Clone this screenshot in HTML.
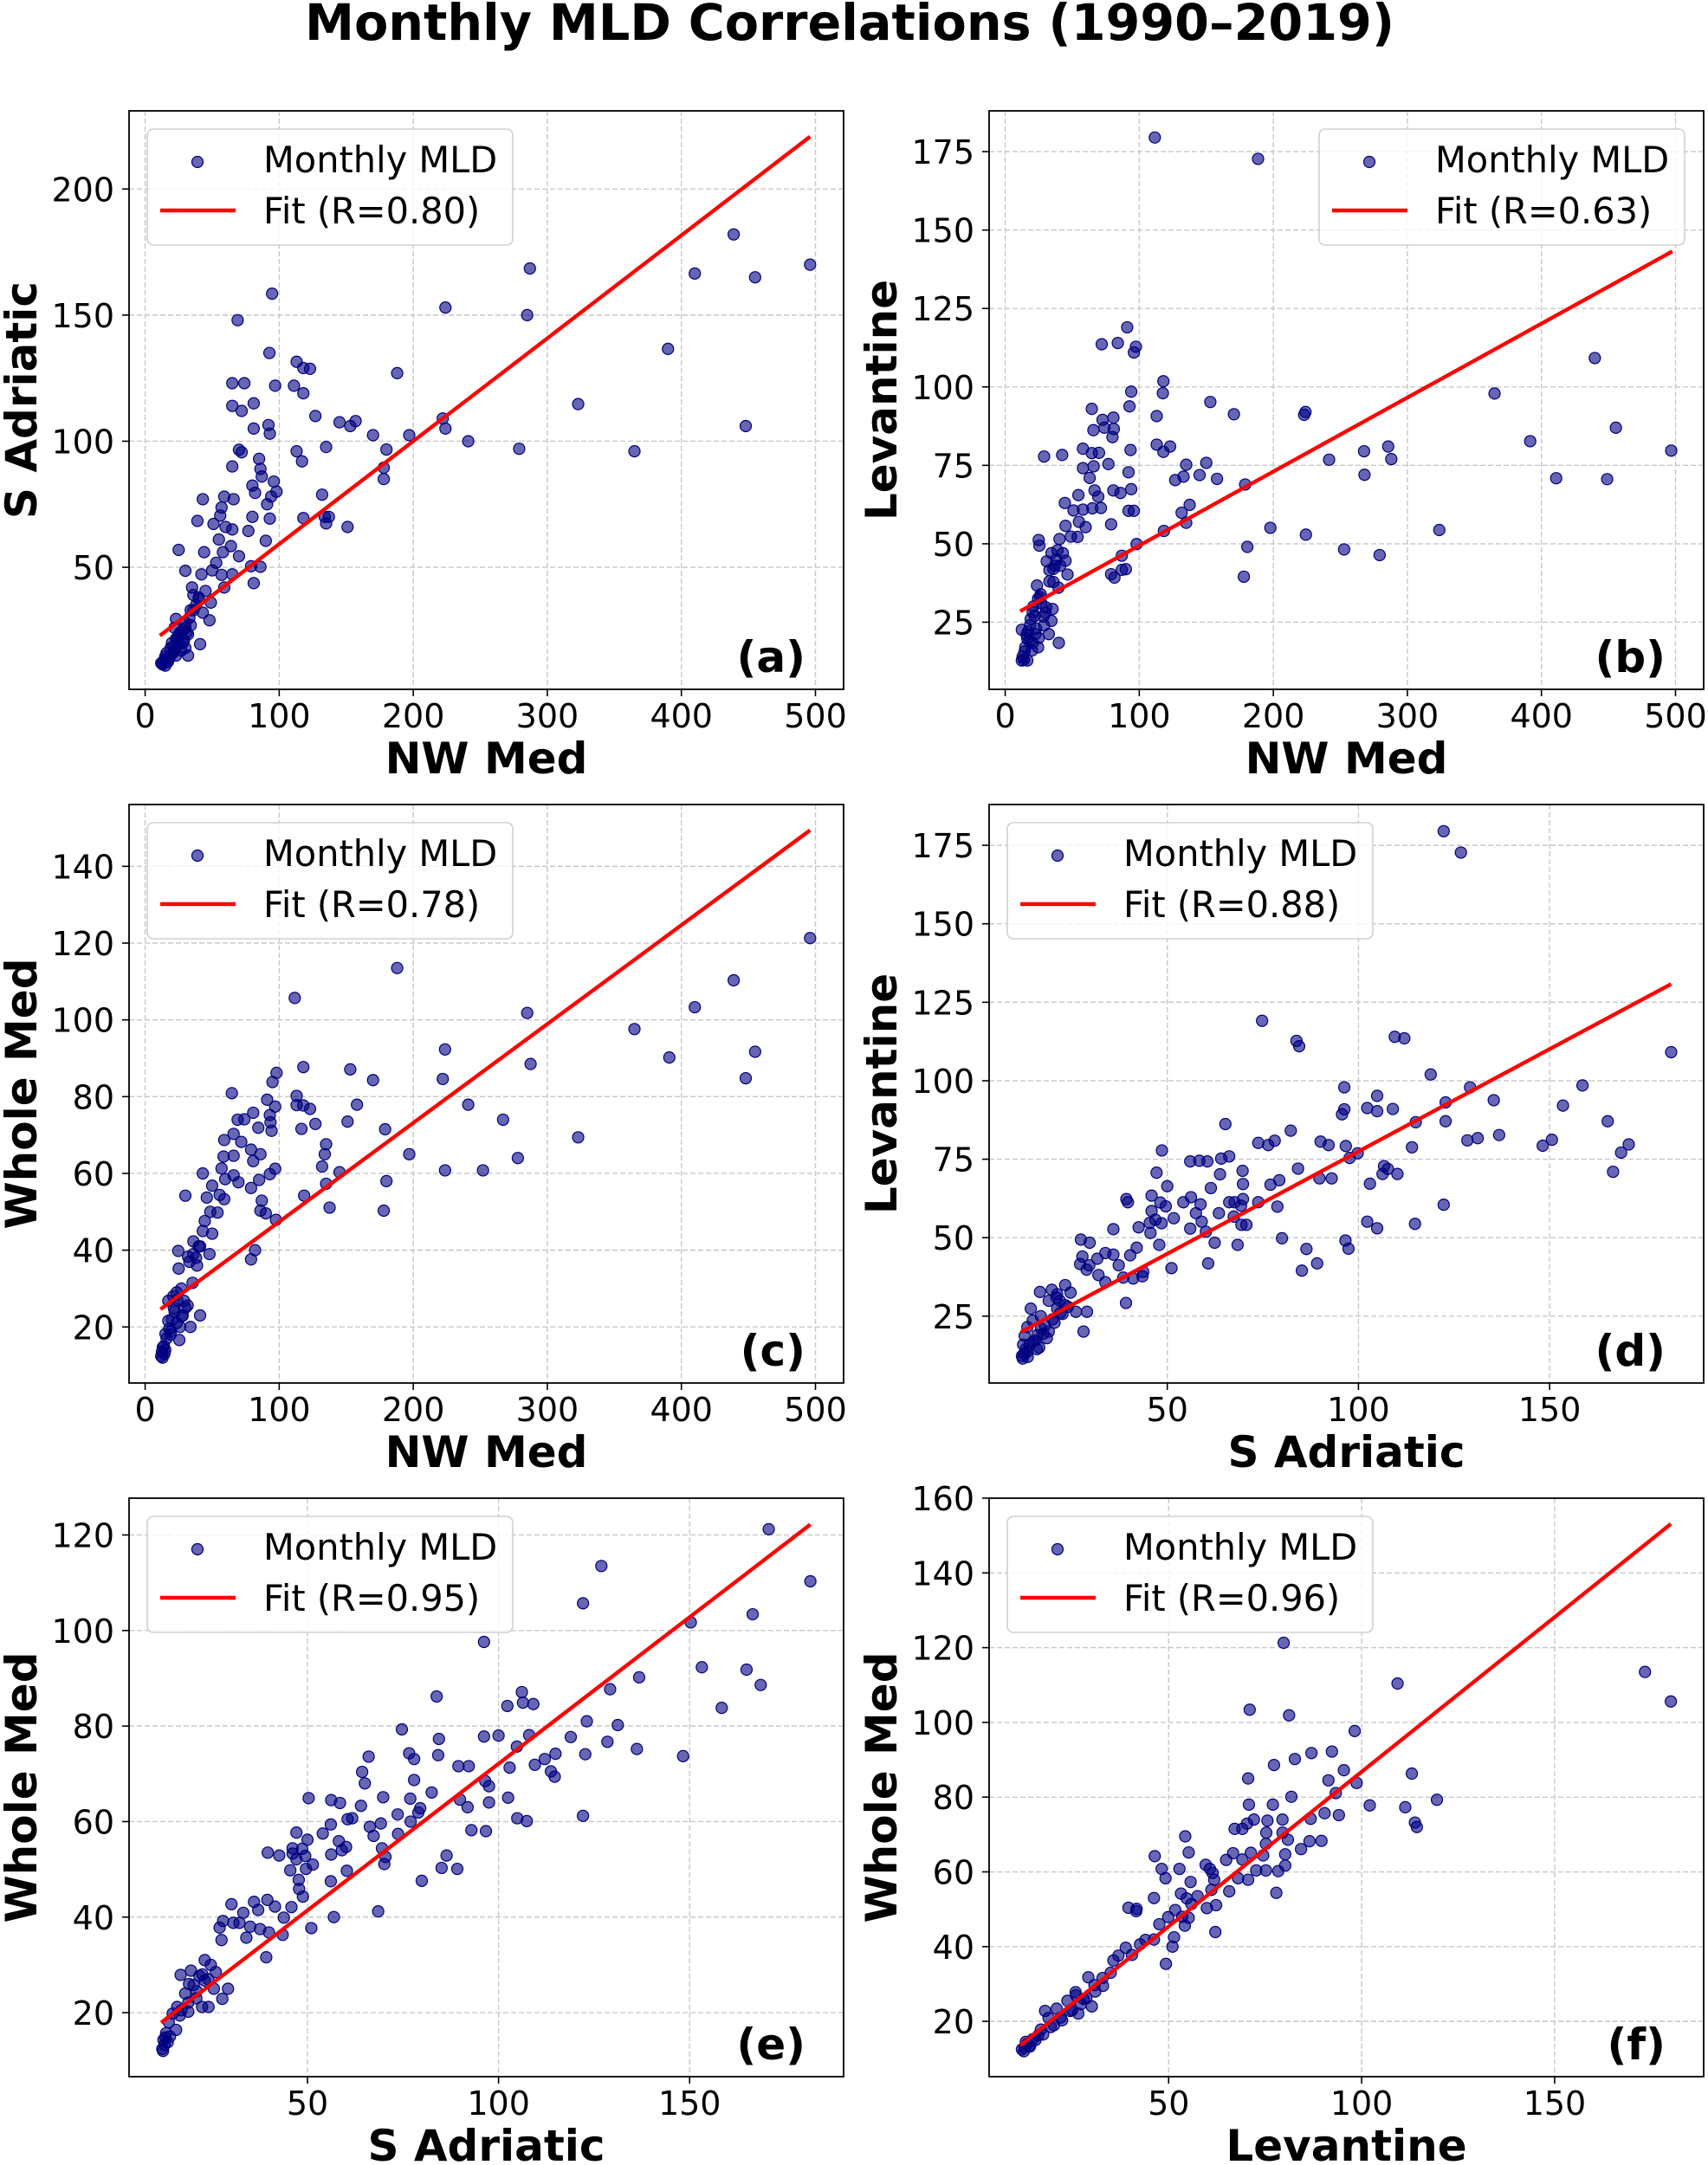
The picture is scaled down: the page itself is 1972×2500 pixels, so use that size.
<!DOCTYPE html>
<html><head><meta charset="utf-8"><title>Monthly MLD Correlations</title>
<style>
html,body{margin:0;padding:0;background:#fff;}
svg{display:block;font-family:"DejaVu Sans","Liberation Sans",sans-serif;}
</style></head>
<body>
<svg id="fig" width="1972" height="2500" viewBox="0 0 1972 2500" xmlns="http://www.w3.org/2000/svg">
<rect width="1972" height="2500" fill="#fff"/>
<text x="981" y="46" text-anchor="middle" font-size="58" font-weight="bold" textLength="1258" lengthAdjust="spacingAndGlyphs">Monthly MLD Correlations (1990–2019)</text>
</svg>
<script>
// ---- data ----
const aX=[94.7,69,92.7,113,118,123,65,74,97,111,188,224,287,285,410,439,455,496,390,323,448,365,279,241,222,224,197,170,180,178,178,145,153,157,127,118,81,65,72,81,92,93,113,135,117,85,70,72,65,86,87,96,98,80,82,132,94,91,59,43,66,57,56,80,93,118,134,137,135,151,39,51,60,65,77,90,55,64,58,44,25,70,79,86,81,30,42,53,50,57,65,59,35,36,45,49,40,34,43,48,23,30,41,32,13,15,19,23,28,25.5,15,32,21,17,34,23,30,12,14,16,18,20,22,24,26,28,30,13,17,21,25,29,33,36,38,40,27,19,15,22,31];
const aY=[158.5,148,135,131.5,129,128.7,123,123,122,122,127,153,168.5,150,166.5,182,165,170,136.6,114.7,106,96,97,100,109,105,102.4,102.4,96.7,89.5,85,107.5,106,108,110,119,115,114,112,105,106.4,103,96,97.7,92,93,96.6,95.6,90,89,86,84,80,82.4,79.5,78.8,78,75,78,77,77,73.7,70.5,70,69.3,69.5,70,70,67.4,66,68.4,67.2,66,65,64.4,60.5,61,58.4,56,56,56.9,54.4,50.4,50.2,43.7,48.6,47.2,51.8,48.8,47,47.2,42,42,39,40.6,36,37.4,33,32,29,29.5,28,19.5,15,12,14.6,18,21.6,25,19.9,11,23.4,16.3,12.8,27,15,18,12,13,16,14,20,17,22,24,20,26,11.5,12.5,18.5,23,21,30,33,35,38,17,15,13.5,26,24];
const bX=[111.6,188.6,91,72,84,97.5,96,118,117.6,94,92.7,64.6,153,113,170.6,223,224,72.6,80.7,81,65.8,74,80,113,118,123,93.5,58,70,64.6,29,42.5,77,58,66,135,150,92,63,145,133,126.8,158,179,241.6,267.7,285.7,288,268,365,391.6,411,439.8,449,455.5,496.8,323.8,197.8,224.3,252.8,279.3,180.6,178,118.4,131.6,135,137.6,80.7,94,86,69.4,66.7,79,96,92,98,87,90,87,79,81.5,44.5,54.6,51,58,65,71.4,55,45,60,54,49,40.5,25,25.5,39,34.5,31,45,37,33,46.5,36,39.7,35.3,40,23.7,12.4,14.4,16.5,18.5,20.5,24.5,28.5,24.5,32.5,16.5,22.5,30.5,20.5,12.4,34.5,26.5,13,15,17,19,21,23,25,27,29,14,18,22,26,30,33,36,38,41,43,16,20];
const bY=[179.5,172.7,119,113.6,114,112.8,111,101.8,98,98.5,93.8,93,95.2,90.7,91.3,91.1,92,89.5,90.2,86.6,86.2,87,84,81.6,79.3,81,79.9,80.3,79,78.9,77.8,78.3,75.4,74.1,74.7,75.2,75.8,72.8,71,71.9,71.4,70.3,70.7,68.9,76.8,79.5,81,77,72,97.9,82.7,70.9,109.2,70.6,87,79.7,54.4,55.1,52.9,48.2,46.4,49,39.5,54.1,59.9,56.7,62.4,67,67.4,66.2,65,67,56.2,60.5,60.5,49.9,46.2,41.9,41.7,40.3,39.2,63,65.5,60.6,60.9,61.3,61.4,57,55.7,55.3,52.2,52.3,51.5,51.2,49.4,47.9,47,44.4,44.6,43,41.6,40.2,37.8,36,29.2,18.4,36.7,12.8,15.6,19.8,24,28.2,32.5,26.8,17,21.2,12.8,21.2,29.7,18.4,22.6,25.4,33.9,14,17,22,26,30,23,20,31,24,13,19,27,33,28,38,42,45,43,47,21,16];
const cX=[496,188,111.6,285,439,410,365,391,455,448,223.7,222,287.5,241,267,323,278,252,223.7,197,179,180,178,170,158,153,151,145,137.6,135,135,134,132,127,123,118,118,116.6,113,113,118.6,98,95,97,91,93,93.5,94.3,97,93,97.6,87,90,86,85,86,79,80.6,79,82,79,64.7,80.6,84.4,74,69,71.7,66,59,66,58.5,57,66,69.6,59.7,50,43,55.6,46,59,48.6,54,44.5,50,43,30,24.7,36,41,48,32,38.7,25,35.4,41,29,12,13.2,15.2,17.3,21.4,23.5,27.6,25.5,33.8,19.4,14.4,31.7,23.5,17.3,12.5,14,16,18,20,22,24,26,28,30,13,15,19,21,27,33,36,38,40];
const cY=[121.3,113.5,105.7,101.8,110.3,103.3,97.6,90.2,91.7,84.8,92.3,84.6,88.5,77.9,74,69.4,64,60.8,60.8,65,71.5,58,50.3,84.3,77.9,87.1,73.5,60.3,51.1,57.3,67.6,65,61.8,72.9,76.8,87.7,77.7,71.6,80.2,77.8,54.2,86.2,83.8,77.4,79.2,75.2,73.3,71.1,61.2,59.8,47.9,52.9,49.6,50.3,58.3,65,66.2,63.2,56.2,40,37.6,80.9,75.8,71.9,74.1,74,68.2,70.3,68.7,64.6,64.4,61.3,59.5,57.7,58.5,56.8,60,54.4,53.7,53.3,50,49.8,47.6,44.3,45,54.2,39.8,42.3,41,39,38.3,36,35.2,31.5,23,26.8,12.4,14.7,18.2,21.6,25,29,22.8,16.6,20,18.9,13,25.6,21,26.8,13.5,15,17,19.5,22,24,27,20,23,25,12,14,18,28,30,37,39,38,41];
const dX=[122.3,126.8,74.8,83.8,84.5,109.5,112,181.8,118.9,96.3,129.2,158.6,135.4,122.8,153.5,104.9,102.3,104.9,109,95.7,96.3,115,122.8,165.2,65.2,82.3,73.8,78.1,76.4,90.1,92.2,96.7,99.8,97.7,114,128.5,131.2,136.8,148.2,150.6,170.7,168.7,166.6,106.7,107.7,110.2,106.3,103,93,89.8,84.2,79.3,77,69.7,69.8,63.8,56,58.4,60.5,64.1,66.2,48.6,47.2,50,61.4,45.9,39.3,39.7,48.2,49.6,54.2,56.2,58.7,66.2,67.6,69.3,69.8,73.8,78.8,57.5,59,63.5,67.4,69.4,70.7,45.9,46.9,48.5,51.7,45.4,42.5,35.9,45.6,56,60.1,47.9,62.4,68.4,80,96.6,97.4,86.4,89.2,85.2,102.3,104.9,114.8,122.3,60.7,51.1,42,40.3,43.7,43.5,41.1,38.5,39.2,35.9,33.8,31.7,29.6,27.2,27.4,29.7,27.8,28.9,32,33.8,37.3,26.1,29,28.1,24.7,23.3,19.8,16.7,14.3,21.2,19,15.9,12,12.3,12.7,13.4,14.8,16.9,17.6,19,20.5,21.9,22.6,13.4,15.5,21.2,23.3,12.5,13,14,15,16,17,18,20,22,24,12.2,13.5,16.5,18.5,21];
const dY=[179.5,172.7,119.1,112.7,111,114,113.5,109.1,102,97.9,97.9,98.5,93.8,93.1,92.1,95.2,91.3,90.3,91,89.3,90.9,86.8,87.1,87.1,86.2,84.1,80.2,80.9,79.5,80.6,79.5,79.2,76.9,75.4,78.8,81,81.7,82.7,79.3,81.2,79.7,77.1,71,72.8,71.9,70.3,70.3,67.2,68.9,68.9,72,68.3,66.9,71.3,67.1,70.2,74.3,74.5,74.3,75.2,75.9,77.8,70.7,66.4,65.8,63.4,62.3,61.3,61.2,60,61.3,62.9,60.6,61.3,61.3,60.2,62.3,61.3,59.9,57.8,55.1,57.8,56.7,54.1,54.1,58.5,55.7,54.6,56.2,54.7,53.3,52.7,51.5,52.9,51.9,47.7,48.4,47.7,49.8,49.1,46.5,46.4,41.8,39.5,55.1,53,54.4,60.5,41.8,40.3,46.8,44.4,39.1,37.7,37,37.3,29.2,44.6,45.1,43.3,41.2,41.6,49.4,48.4,44,39.8,38.1,35.8,41.2,26.4,26.4,20.1,32.5,34.9,33.4,32.7,27.4,27.4,20.1,14.5,12.3,15.9,18.7,21.5,23.6,25,19.4,29.9,22.9,29.9,25.7,13.7,17.3,32,28.5,13,14.5,16,17,19,21,22,24,26,28,11.5,12,15,18,31];
const eX=[170.7,181.6,126.9,122.1,166.5,150.3,96.2,153.2,164.9,136.8,168.6,129.2,83.8,106.1,106.4,109.1,102.3,158.4,123.1,131.2,74.7,96.2,100,108,118.9,128.5,84.4,104.8,114.9,122.7,136.2,148.3,76.6,77.9,84.2,66,64.3,65,77.9,82.5,89.5,92.2,102.9,109.5,112.1,113.7,114.7,96.5,97.5,69.8,76.9,89.9,102.5,97.5,91.9,50.3,56.2,58.5,64,73.6,79,79.5,60.5,61.7,77,104.9,107.4,122.1,56.1,66.3,69.2,92.9,96.7,73.7,54,47.1,50,58.2,67.3,69.5,70.4,70.1,56.2,59,60.1,46.1,46.1,48.6,49.4,39.6,42.6,47.1,51.4,49.6,45.5,60.3,56.1,86.4,85.1,89.2,79.9,47.7,47.8,48.8,45.8,43.8,51,56.9,68.5,43.5,39.9,37.6,39.2,39.5,36,37.1,41.5,30.1,33.2,30.6,27.9,27,27.5,32.2,34,35,23.1,24.7,19.5,16.8,29.2,27.7,22.4,24.1,18.8,15.6,12,12.3,13,13.7,14.7,15.9,18,20.2,21.7,23.1,20.9,18.8,12.6,16.6,12.2,12.8,13.4,14,17,19,21,22.5,24,25.5,26];
const eY=[121.2,110.3,113.5,105.7,103.4,101.7,97.6,92.3,91.8,90.2,88.6,87.7,86.2,87.1,84.9,84.6,84.2,83.8,81,80.2,79.3,77.8,78,78.1,77.7,76.7,77.3,75.7,74.2,74.1,75.2,73.7,74.3,73.1,73.9,73.6,70.4,68,68.7,66.1,71.6,71.6,71.3,71.9,73.1,70.5,69.4,68.5,67.4,65.1,64.8,64.6,65,64,63,64.9,64.5,63.9,63.3,61.5,61.9,62.8,60.5,60.7,60,60.7,60.1,61.2,59.4,58.9,59.6,58.2,58,57.4,57.5,57.7,56.2,55.9,57,54.4,52.6,51.1,53.1,54,54.7,54.4,53.3,54.3,52.8,53.5,52.9,52.1,51,50.1,49.8,49.7,47.5,52.9,50.3,50.1,47.6,47.8,45.9,44.3,42.1,39.9,37.7,40,41.2,36.3,36.8,37.5,31.6,43.6,43.2,41.5,42.2,42.7,40.9,38.8,39.2,37.8,35.2,38.8,35.7,38,31,30,28.8,27.9,25,22.9,21.2,21.2,20.2,16.4,12.4,14.3,15.7,18,19.8,21.2,24,25.8,27.7,26.7,23,22.1,13.3,19.4,12,14.8,13.8,15,20.5,26,24.5,28,27,25,28.5];
const fX=[173.4,180.1,79.8,109.3,71,81.2,98.2,77.3,82.7,87,92.3,70.6,91.4,95.4,98.7,113,102.1,111.3,113.8,114.3,119.5,81.8,93.3,70.8,77,86.8,90.4,94.1,75.6,79.5,70.3,72.1,67.1,69.1,75.3,79.5,80.9,75.2,71.3,74.5,80.2,84.3,86.5,89.6,64.9,66.7,69.1,72.7,75.2,78.4,80.2,68,70.6,65.7,77.9,54.3,55.2,46.4,48.2,52.8,49.2,55.7,59.6,60.7,61.4,61.8,61.1,57.5,53.2,54.7,55.9,59.9,62.3,62.1,51.7,53.5,55.2,54.2,49.9,47.6,46.2,39.6,41.7,41.6,51.4,51,49.3,46.2,44,42.6,38.9,40.5,37,35.7,32.9,29.2,30.8,25.9,28.7,30.1,26.6,23.8,21,18.9,16.9,13.4,12,14.8,16.2,18,20.3,22.4,24.5,27.3,12.7,14.1,12.5,13,13.8,15.5,17.5,19.5,22,25,26,28,31,33,35];
const fY=[113.5,105.6,121.3,110.4,103.4,101.9,97.7,88.6,90.2,91.8,92.2,85,84.5,87.2,83.8,86.3,77.8,77.3,73.2,72,79.3,80.1,81.1,78,78,74.2,75.7,75.2,73.7,74,72.9,74,71.5,71.5,70.5,70.5,68.6,67.5,65.1,64.4,64.7,66.1,68.2,68.3,63.2,65,63.3,60.4,60.4,60.2,61.7,58.3,57.9,54.8,54.4,69.5,65.2,64.2,60.8,60.8,58.3,57.3,61.9,60.8,59.7,57.9,55.2,53.5,54.2,52.9,51.4,50.3,51.1,43.9,49.8,48,47.7,45.6,47.9,46,53,50.4,50.1,49.5,42.5,40,35.4,41.9,41.8,40.6,39.7,37.8,37.6,36.3,31.6,31.8,29.7,27.8,26.2,24,22.1,25.5,23.4,20.9,17.8,14,12.5,15.2,16.2,22.8,19,20.3,22.8,24.6,13,13.3,12,14.5,13.5,15,16.5,18.5,21,23,27,26,28,29.5,33];
const fitAX=[11,496], fitAY=[22.9,220.8];
const fitBX=[11.2,497.6], fitBY=[28.5,143.2];
const fitCX=[11.5,496], fitCY=[24.6,149.4];
const fitDX=[11.7,181.8], fitDY=[19.9,130.8];
const fitEX=[11.7,181.6], fitEY=[17.9,122.2];
const fitFX=[11.6,180.1], fitFY=[13.6,153.1];
const nwTicks=[0,100,200,300,400,500];
const saTicks=[50,100,150];
const aYTicks=[50,100,150,200];
const levTicks=[25,50,75,100,125,150,175];
const cYTicks=[20,40,60,80,100,120,140];
const eYTicks=[20,40,60,80,100,120];
const fYTicks=[20,40,60,80,100,120,140,160];
const rLabels=["Fit (R=0.80)","Fit (R=0.63)","Fit (R=0.78)","Fit (R=0.88)","Fit (R=0.95)","Fit (R=0.96)"];

const NS="http://www.w3.org/2000/svg";
const svg=document.getElementById('fig');
function mk(tag,attrs,parent){const e=document.createElementNS(NS,tag);for(const k in attrs)e.setAttribute(k,attrs[k]);(parent||svg).appendChild(e);return e;}

const panels=[
 {id:'a',L:149,T:128,xd:[-12,521],yd:[1.6,231],xt:nwTicks,yt:aYTicks,X:aX,Y:aY,fx:fitAX,fy:fitAY,xl:'NW Med',yl:'S Adriatic',leg:'left',r:0},
 {id:'b',L:1142,T:128,xd:[-12,521],yd:[3.6,188],xt:nwTicks,yt:levTicks,X:bX,Y:bY,fx:fitBX,fy:fitBY,xl:'NW Med',yl:'Levantine',leg:'right',r:1},
 {id:'c',L:149,T:929,xd:[-12,521],yd:[5.4,156.1],xt:nwTicks,yt:cYTicks,X:cX,Y:cY,fx:fitCX,fy:fitCY,xl:'NW Med',yl:'Whole Med',leg:'left',r:2},
 {id:'d',L:1142,T:929,xd:[3.4,190.3],yd:[3.7,188],xt:saTicks,yt:levTicks,X:dX,Y:dY,fx:fitDX,fy:fitDY,xl:'S Adriatic',yl:'Levantine',leg:'left',r:3},
 {id:'e',L:149,T:1730,xd:[3.3,190.3],yd:[6.6,127.7],xt:saTicks,yt:eYTicks,X:eX,Y:eY,fx:fitEX,fy:fitEY,xl:'S Adriatic',yl:'Whole Med',leg:'left',r:4},
 {id:'f',L:1142,T:1730,xd:[3.5,188.6],yd:[5.2,160],xt:saTicks,yt:fYTicks,X:fX,Y:fY,fx:fitFX,fy:fitFY,xl:'Levantine',yl:'Whole Med',leg:'left',r:5}
];
const W=825,H=668;
panels.forEach(p=>{
  const g=mk('g',{});
  
  
  const sx=v=>p.L+(v-p.xd[0])/(p.xd[1]-p.xd[0])*W;
  const sy=v=>p.T+H-(v-p.yd[0])/(p.yd[1]-p.yd[0])*H;
  p.xt.forEach(t=>{
    const gl=mk('line',{x1:sx(t),x2:sx(t),y1:p.T,y2:p.T+H,stroke:'#c8c8c8','stroke-width':1.4,'stroke-dasharray':'6,3'},g);
    
    
    mk('line',{x1:sx(t),x2:sx(t),y1:p.T+H,y2:p.T+H+8,stroke:'#000','stroke-width':1.6},g);
    const tl=mk('text',{x:sx(t),y:p.T+H+44,'text-anchor':'middle','font-size':38},g);
    tl.textContent=t;
    
    
  });
  p.yt.forEach(t=>{
    const gl=mk('line',{x1:p.L,x2:p.L+W,y1:sy(t),y2:sy(t),stroke:'#c8c8c8','stroke-width':1.4,'stroke-dasharray':'6,3'},g);
    
    
    mk('line',{x1:p.L-8,x2:p.L,y1:sy(t),y2:sy(t),stroke:'#000','stroke-width':1.6},g);
    const tl=mk('text',{x:p.L-17,y:sy(t)+14,'text-anchor':'end','font-size':38},g);
    tl.textContent=t;
    
    
  });
  for(let i=0;i<p.X.length;i++){
    const c=mk('circle',{cx:sx(p.X[i]),cy:sy(p.Y[i]),r:6.5,fill:'rgba(0,0,128,0.6)',stroke:'#000080','stroke-width':1.2},g);
    
    
  }
  const fl=mk('line',{x1:sx(p.fx[0]),y1:sy(p.fy[0]),x2:sx(p.fx[1]),y2:sy(p.fy[1]),stroke:'#ff0000','stroke-width':4.4},g);
  
  
  const fr=mk('rect',{x:p.L,y:p.T,width:W,height:H,fill:'none',stroke:'#000','stroke-width':1.8},g);
  
  
  const lw=422, lx=p.leg==='left'?p.L+21:p.L+W-22-lw, ly=p.T+21;
  const lg=mk('g',{},g);
  
  
  mk('rect',{x:lx,y:ly,width:lw,height:134,rx:7,fill:'rgba(255,255,255,0.8)',stroke:'#d0d0d0','stroke-width':1.6},lg);
  const lm=mk('circle',{cx:lx+58,cy:ly+38,r:6.5,fill:'rgba(0,0,128,0.6)',stroke:'#000080','stroke-width':1.2},lg);
  
  
  const t1=mk('text',{x:lx+134,y:ly+50,'font-size':41.5},lg);
  t1.textContent='Monthly MLD';
  
  
  mk('line',{x1:lx+15,x2:lx+102,y1:ly+94,y2:ly+94,stroke:'#ff0000','stroke-width':4.4},lg);
  const t2=mk('text',{x:lx+134,y:ly+109,'font-size':41.5},lg);
  t2.textContent=rLabels[p.r];
  
  
  const pl=mk('text',{x:p.L+W-44,y:p.T+H-20,'text-anchor':'end','font-size':50,'font-weight':'bold'},g);
  pl.textContent='('+p.id+')';
  
  
  const xl=mk('text',{x:p.L+W/2,y:p.T+H+97,'text-anchor':'middle','font-size':50,'font-weight':'bold'},g);
  xl.textContent=p.xl;
  
  
  const yx=p.L-107, yy=p.T+H/2;
  const yl=mk('text',{x:yx,y:yy,'text-anchor':'middle','font-size':50,'font-weight':'bold',transform:'rotate(-90 '+yx+' '+yy+')'},g);
  yl.textContent=p.yl;
  
  
});
</script>
</body></html>
